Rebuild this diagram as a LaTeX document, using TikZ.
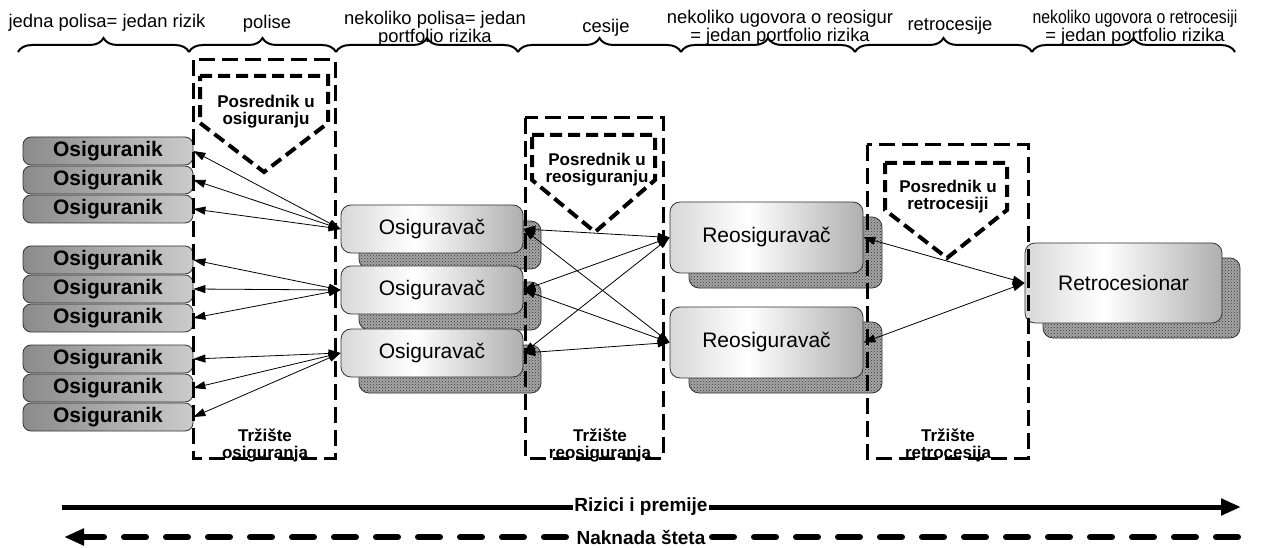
\documentclass[tikz,border=0pt]{standalone}
\usepackage{fontspec}
\setmainfont{Liberation Sans}
\usetikzlibrary{arrows.meta,decorations.pathreplacing,patterns}
\pgfdeclarehorizontalshading{cylshade}{100bp}{color(0bp)=(black!42); color(6bp)=(black!30); color(45bp)=(white); color(88bp)=(black!45); color(100bp)=(black!30)}
\pgfdeclarehorizontalshading{insshade}{100bp}{color(0bp)=(black!58); color(100bp)=(black!8)}
\tikzset{
  lbl/.style={font=\fontsize{18.4}{15.5}\selectfont, align=center, inner sep=0pt, anchor=north},
  brc/.style={decorate, decoration={brace, amplitude=14pt}, line width=2pt},
  insured/.style={draw=black!80, line width=0.8pt, rounded corners=8pt, shading=insshade, minimum width=170pt, minimum height=28pt, font=\bfseries\fontsize{21}{21}\selectfont, inner sep=0pt},
  insurer/.style={draw=black!80, line width=0.8pt, rounded corners=10pt, shading=cylshade, font=\fontsize{21}{21}\selectfont, inner sep=0pt},
  shadowbox/.style={draw=black!80, line width=0.8pt, rounded corners=10pt, fill=black!35, postaction={pattern=crosshatch dots, pattern color=black!80}, inner sep=0pt},
  link/.style={line width=0.8pt, <->, >={Triangle[length=12pt,width=8pt]}},
  market/.style={line width=3pt, dash pattern=on 16pt off 7pt},
  broker/.style={line width=4pt, dash pattern=on 12pt off 6pt},
  mtxt/.style={font=\bfseries\fontsize{17}{17}\selectfont, align=center, inner sep=0pt},
  flowlbl/.style={font=\bfseries\fontsize{19}{19}\selectfont, fill=white, inner sep=1pt}
}
\begin{document}
\begin{tikzpicture}[x=1pt,y=-1pt]
\useasboundingbox (0,0) rectangle (1272,548);
% top braces
\draw[brc] (18,52) -- (189,52);
\draw[brc] (189,52) -- (336,52);
\draw[brc] (336,52) -- (518,52);
\draw[brc] (518,52) -- (681,52);
\draw[brc] (681,52) -- (855,52);
\draw[brc] (855,52) -- (1032,52);
\draw[brc] (1032,52) -- (1235,52);
\node[lbl] (t1) at (107,14) {jedna polisa= jedan rizik};
\node[lbl] (t2) at (267,15) {polise};
\node[lbl] (t3) at (435,11) {nekoliko polisa= jedan\\portfolio rizika};
\node[lbl] (t4) at (606,19) {cesije};
\node[lbl] (t5) at (780,10) {nekoliko ugovora o reosigur\\= jedan portfolio rizika};
\node[lbl] (t6) at (950,17) {retrocesije};
\node[lbl] (t7) at (1135,10) {\scalebox{0.86}[1]{nekoliko ugovora o retrocesiji}\\= jedan portfolio rizika};
% shadows
\node[shadowbox, minimum width=182pt, minimum height=48pt] (sv1) at (450,245) {};
\node[shadowbox, minimum width=182pt, minimum height=48pt] (sv2) at (450,306) {};
\node[shadowbox, minimum width=182pt, minimum height=48pt] (sv3) at (450,369) {};
\node[shadowbox, minimum width=193pt, minimum height=71pt] (sr1) at (785.5,252.5) {};
\node[shadowbox, minimum width=193pt, minimum height=71pt] (sr2) at (785.5,357.5) {};
\node[shadowbox, minimum width=197pt, minimum height=80pt] (sx) at (1141.5,298) {};
% insured
\node[insured] (ia1) at (108,151) {Osiguranik};
\node[insured] (ia2) at (108,180) {Osiguranik};
\node[insured] (ia3) at (108,209) {Osiguranik};
\node[insured] (ia4) at (108,260) {Osiguranik};
\node[insured] (ia5) at (108,289) {Osiguranik};
\node[insured] (ia6) at (108,318) {Osiguranik};
\node[insured] (ia7) at (108,359) {Osiguranik};
\node[insured] (ia8) at (108,388) {Osiguranik};
\node[insured] (ia9) at (108,417) {Osiguranik};
% insurers
\node[insurer, minimum width=182pt, minimum height=48pt] (v1) at (432,229) {Osiguravač};
\node[insurer, minimum width=182pt, minimum height=48pt] (v2) at (432,290) {Osiguravač};
\node[insurer, minimum width=182pt, minimum height=48pt] (v3) at (432,353) {Osiguravač};
\node[insurer, minimum width=193pt, minimum height=71pt] (r1) at (766.5,237.5) {Reosiguravač};
\node[insurer, minimum width=193pt, minimum height=71pt] (r2) at (766.5,342.5) {Reosiguravač};
\node[insurer, minimum width=197pt, minimum height=80pt] (x) at (1123.5,283) {Retrocesionar};
% links
\draw[link] (ia1.east) -- (v1.west);
\draw[link] (ia2.east) -- (v1.west);
\draw[link] (ia3.east) -- (v1.west);
\draw[link] (ia4.east) -- (v2.west);
\draw[link] (ia5.east) -- (v2.west);
\draw[link] (ia6.east) -- (v2.west);
\draw[link] (ia7.east) -- (v3.west);
\draw[link] (ia8.east) -- (v3.west);
\draw[link] (ia9.east) -- (v3.west);
\draw[link] (v1.east) -- (r1.west);
\draw[link] (v1.east) -- (r2.west);
\draw[link] (v2.east) -- (r1.west);
\draw[link] (v2.east) -- (r2.west);
\draw[link] (v3.east) -- (r1.west);
\draw[link] (v3.east) -- (r2.west);
\draw[link] (r1.east) -- (x.west);
\draw[link] (r2.east) -- (x.west);
% markets
\draw[market] (193,60) rectangle (335,458);
\draw[market] (525,118) rectangle (663,458);
\draw[market] (867,145) rectangle (1028,458);
\draw[broker] (200,76) -- (328,76) -- (328,123) -- (264,172) -- (200,123) -- cycle;
\draw[broker] (532,135) -- (655,135) -- (655,180) -- (595,232) -- (532,180) -- cycle;
\draw[broker] (885,163) -- (1007,163) -- (1007,210) -- (947,258) -- (885,210) -- cycle;
\node[mtxt] (p1) at (266,112) {Posrednik u\\osiguranju};
\node[mtxt] (p2) at (597,170) {Posrednik u\\reosiguranju};
\node[mtxt] (p3) at (948,197) {Posrednik u\\retrocesiji};
\node[mtxt] (m1) at (265,445) {Tržište\\osiguranja};
\node[mtxt] (m2) at (600,445) {Tržište\\reosiguranja};
\node[mtxt] (m3) at (948,445) {Tržište\\retrocesija};
% flows
\coordinate (fl) at (62,507);
\coordinate (fr) at (1241,507);
\draw[line width=5pt, -{Triangle[length=20pt,width=16pt]}] (fl) -- (fr);
\node[flowlbl] (rp) at (641,507) {Rizici i premije};
\coordinate (dr) at (1238,537);
\coordinate (dl) at (64,537);
\draw[line width=6pt, line cap=round, dash pattern=on 22pt off 20pt, -{Triangle[length=20pt,width=16pt]}] (dr) -- (dl);
\node[flowlbl] (nd) at (641,537) {Naknada šteta};
\end{tikzpicture}
\end{document}
